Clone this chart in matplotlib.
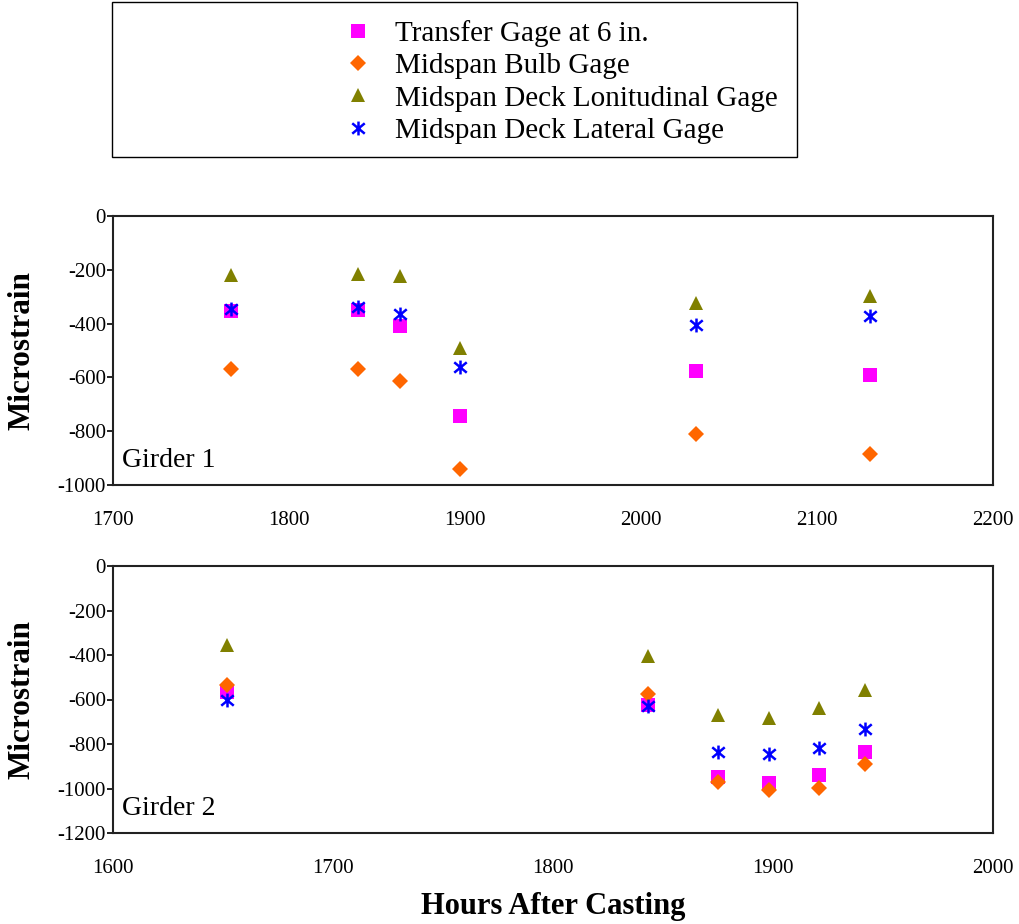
import matplotlib
matplotlib.use("Agg")
import matplotlib.pyplot as plt
from matplotlib.patches import Rectangle
from matplotlib.lines import Line2D
from matplotlib.path import Path

plt.rcParams['font.family'] = ['Liberation Serif', 'DejaVu Serif']

series_names = ["Transfer Gage at 6 in.", "Midspan Bulb Gage",
                "Midspan Deck Lonitudinal Gage", "Midspan Deck Lateral Gage"]

# Girder 1
g1_hours = [1767, 1839, 1863, 1897, 2031, 2130]
g1_transfer = [-355, -349, -409, -744, -578, -591]
g1_bulb = [-570, -570, -615, -942, -812, -885]
g1_deck_long = [-220, -216, -222, -492, -325, -296]
g1_deck_lat = [-345, -337, -366, -563, -405, -373]

# Girder 2
g2_hours = [1652, 1843, 1875, 1898, 1921, 1942]
g2_transfer = [-566, -626, -948, -975, -941, -836]
g2_bulb = [-536, -577, -971, -1005, -996, -891]
g2_deck_long = [-356, -406, -671, -681, -636, -559]
g2_deck_lat = [-604, -631, -837, -846, -819, -731]

g1_xticks = [1700, 1800, 1900, 2000, 2100, 2200]
g1_yticks = [0, -200, -400, -600, -800, -1000]
g2_xticks = [1600, 1700, 1800, 1900, 2000]
g2_yticks = [0, -200, -400, -600, -800, -1000, -1200]

# Excel-style star: an X with a vertical bar
star_path = Path(
    [(0, -1), (0, 1), (-0.9, -0.75), (0.9, 0.75), (-0.9, 0.75), (0.9, -0.75)],
    [Path.MOVETO, Path.LINETO, Path.MOVETO, Path.LINETO, Path.MOVETO, Path.LINETO])

styles = [
    dict(marker='s', color='#FF00FF', ms=9.5, mew=0),
    dict(marker='D', color='#FF6600', ms=8, mew=0),
    dict(marker='^', color='#808000', ms=10, mew=0),
    dict(marker=star_path, color='#0000FF', ms=10, mew=1.8),
]

W, H = 1019, 924
fig = plt.figure(figsize=(W / 100, H / 100), dpi=100)


def frac(l, t, r, b):
    return [l / W, 1 - b / H, (r - l) / W, (b - t) / H]


ax1 = fig.add_axes(frac(113, 216, 993, 485))
ax2 = fig.add_axes(frac(113, 566, 993, 833))


def draw(ax, hours, data, xticks, yticks, label):
    for vals, st in zip(data, styles):
        ax.plot(hours, vals, linestyle='none', marker=st['marker'],
                color=st['color'], markersize=st['ms'],
                markeredgewidth=st['mew'],
                markeredgecolor=st['color'] if st['mew'] else 'none')
    ax.set_xlim(xticks[0], xticks[-1])
    ax.set_ylim(yticks[-1], yticks[0])
    ax.set_xticks(xticks)
    ax.set_yticks(yticks)
    ax.set_xticklabels([str(v) for v in xticks], fontsize=15)
    ax.set_yticklabels([str(v) for v in yticks], fontsize=15)
    ax.tick_params(axis='x', length=0, pad=19)
    ax.tick_params(axis='y', length=4, width=1.2, pad=1, direction='out')
    for sp in ax.spines.values():
        sp.set_linewidth(1.5)
        sp.set_color('#222222')
    ax.set_ylabel("Microstrain", fontsize=22.5, fontweight='bold')
    ax.yaxis.set_label_coords(-0.087, 0.5)
    ax.text(0.01, 0.09, label, transform=ax.transAxes, fontsize=20,
            ha='left', va='center')


draw(ax1, g1_hours, [g1_transfer, g1_bulb, g1_deck_long, g1_deck_lat],
     g1_xticks, g1_yticks, "Girder 1")
draw(ax2, g2_hours, [g2_transfer, g2_bulb, g2_deck_long, g2_deck_lat],
     g2_xticks, g2_yticks, "Girder 2")
ax2.set_xlabel("Hours After Casting", fontsize=22, fontweight='bold')
ax2.xaxis.set_label_coords(0.5, -0.222)

# legend box
fig.add_artist(Rectangle((112 / W, 1 - 157 / H), (797 - 112) / W, 155 / H,
                         transform=fig.transFigure, fill=False,
                         edgecolor='black', linewidth=1.0))
handles = [Line2D([], [], linestyle='none', marker=st['marker'],
                  color=st['color'], markersize=st['ms'],
                  markeredgewidth=st['mew'],
                  markeredgecolor=st['color'] if st['mew'] else 'none')
           for st in styles]
fig.legend(handles, series_names, loc='center left',
           bbox_to_anchor=(326 / W, 1 - 82 / H), frameon=False,
           fontsize=21, handlelength=1.2, handletextpad=0.67,
           labelspacing=0.2, borderpad=0)

fig.savefig("out.png", dpi=100)
